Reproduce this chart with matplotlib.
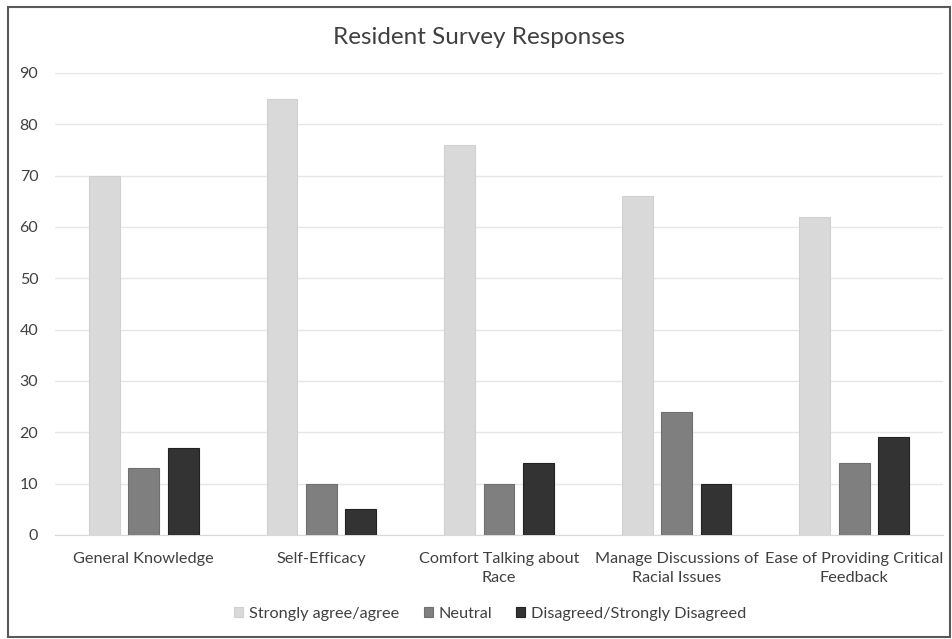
import numpy as np
import matplotlib
matplotlib.use('Agg')
import matplotlib.pyplot as plt
from matplotlib.patches import Rectangle

plt.rcParams['font.family'] = ['Lato', 'DejaVu Sans']

# Survey results per topic
categories = ['General Knowledge', 'Self-Efficacy', 'Comfort Talking about\nRace',
              'Manage Discussions of\nRacial Issues', 'Ease of Providing Critical\nFeedback']
agree = [70, 85, 76, 66, 62]
neutral = [13, 10, 10, 24, 14]
disagree = [17, 5, 14, 10, 19]
series_names = ['Strongly agree/agree', 'Neutral', 'Disagreed/Strongly Disagreed']
colors = ['#d9d9d9', '#7f7f7f', '#333333']
edges = ['#d0d0d0', '#6f6f6f', '#222222']
text_col = '#404040'

fig = plt.figure(figsize=(9.52, 6.39), dpi=100)
ax = fig.add_axes([0.0578, 0.1628, 0.9327, 0.723])

x = np.arange(len(categories))
width = 0.174
step = 0.222
for i, (vals, name) in enumerate(zip([agree, neutral, disagree], series_names)):
    ax.bar(x + (i - 1) * step, vals, width, color=colors[i], edgecolor=edges[i],
           linewidth=0.8, label=name, zorder=3)

ax.set_xlim(-0.5, len(categories) - 0.5)
ax.set_ylim(0, 90)
ax.set_yticks(range(0, 91, 10))
ax.set_xticks(x)
ax.set_xticklabels(categories, fontsize=11.7, color=text_col, linespacing=1.5)
ax.tick_params(axis='y', labelsize=11.5, labelcolor=text_col, length=0, pad=12)
ax.tick_params(axis='x', length=0, pad=12)
ax.grid(axis='y', color='#e6e6e6', linewidth=1, zorder=0)
for s in ['top', 'right', 'left']:
    ax.spines[s].set_visible(False)
ax.spines['bottom'].set_color('#d9d9d9')

fig.text(0.503, 0.942, 'Resident Survey Responses', ha='center', va='center',
         fontsize=17.5, color=text_col)

fig.legend(loc='center', bbox_to_anchor=(0.515, 0.039), ncol=3, frameon=False,
           fontsize=11.7, handlelength=0.55, handleheight=0.55, handletextpad=0.35,
           columnspacing=1.5, labelcolor=text_col)

# outer frame around the chart
fig.patches.append(Rectangle((8 / 952, 2 / 639), 942 / 952, 630 / 639,
                             transform=fig.transFigure, fill=False,
                             edgecolor='#595959', linewidth=1.5))

fig.savefig('out.png', dpi=100, facecolor='white')
